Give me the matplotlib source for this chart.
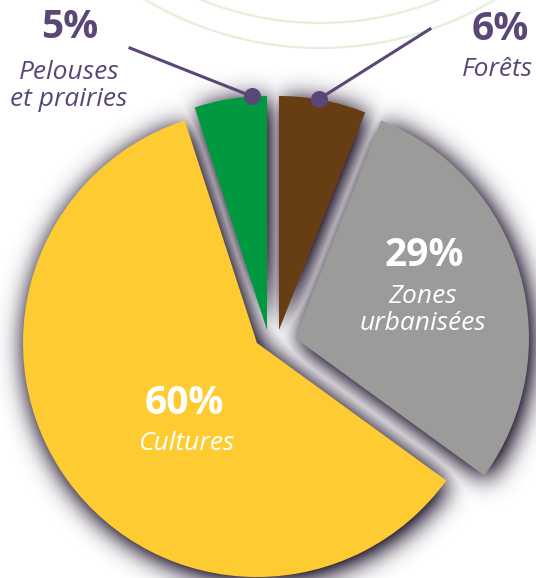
import matplotlib
matplotlib.use("Agg")
import matplotlib.pyplot as plt
import matplotlib.colors as mcolors
import numpy as np

# ---- data ----
categories = ["Forêts", "Zones\nurbanisées", "Cultures", "Pelouses\net prairies"]
values = [6, 29, 60, 5]
pct_labels = ["6%", "29%", "60%", "5%"]
colors = ["#673d14", "#9b9b9a", "#fecc32", "#009940"]

# ---- layout (pixel-like data coords, y up) ----
W, H = 536, 578
R = 234
base_center = (272, 238)
# per-slice shift of each wedge (layout only)
shifts = [(7, 10), (23, 2), (-15, -3), (-5, 10)]
purple = "#5a4778"
shadow_col = "#3a3045"
shadow_sigma = 13.0
shadow_offset = (3, -4)
shadow_strength = 1.6

fig = plt.figure(figsize=(W / 100, H / 100), dpi=100)
ax = fig.add_axes([0, 0, 1, 1])

# decorative arcs at top
arc_c = (320, H + 292)
for r in (315, 340):
    t = np.linspace(0, 2 * np.pi, 400)
    ax.plot(arc_c[0] + r * np.cos(t), arc_c[1] + r * np.sin(t),
            color="#e4f0da", lw=1.6, zorder=0)

# main pie
wedges, _ = ax.pie(values, colors=colors, startangle=90, counterclock=False,
                   radius=R, center=base_center, wedgeprops=dict(linewidth=0))
for w, (dx, dy) in zip(wedges, shifts):
    w.set_center((base_center[0] + dx, base_center[1] + dy))
    w.set_zorder(2)

# soft drop shadow built from each wedge outline
xs = np.arange(W) + 0.5
ys = np.arange(H) + 0.5
gxg, gyg = np.meshgrid(xs, ys)
pts = np.column_stack([gxg.ravel() - shadow_offset[0], gyg.ravel() - shadow_offset[1]])
pad = int(3 * shadow_sigma)
k = np.exp(-0.5 * (np.arange(-pad, pad + 1) / shadow_sigma) ** 2)
k /= k.sum()


def blur(m):
    mp = np.pad(m, pad, mode="constant")
    mp = np.apply_along_axis(lambda r: np.convolve(r, k, mode="same"), 1, mp)
    mp = np.apply_along_axis(lambda c: np.convolve(c, k, mode="same"), 0, mp)
    return mp[pad:-pad, pad:-pad]


alpha = np.zeros((H, W))
for w in wedges:
    p = w.get_patch_transform().transform_path(w.get_path())
    m = p.contains_points(pts).astype(float).reshape(H, W)
    alpha = np.maximum(alpha, np.clip(blur(m) * shadow_strength, 0, 1))
rgba = np.zeros((H, W, 4))
rgba[..., :3] = mcolors.to_rgb(shadow_col)
rgba[..., 3] = alpha
ax.imshow(rgba, extent=(0, W, 0, H), origin="lower", zorder=1,
          interpolation="bilinear")

font = "Open Sans"
PCT = 28
LAB = 19

ax.text(424, H - 255, pct_labels[1], ha="center", va="center", color="white",
        fontsize=PCT, fontweight="bold", family=font, zorder=5)
ax.text(423, H - 310, categories[1], ha="center", va="center", color="white",
        fontsize=LAB, style="italic", family=font, linespacing=1.15, zorder=5)
ax.text(184, H - 404, pct_labels[2], ha="center", va="center", color="white",
        fontsize=PCT, fontweight="bold", family=font, zorder=5)
ax.text(186, H - 443, categories[2], ha="center", va="center", color="white",
        fontsize=LAB, style="italic", family=font, zorder=5)

# outside labels
ax.text(70, H - 28, pct_labels[3], ha="center", va="center", color=purple,
        fontsize=PCT, fontweight="bold", family=font, zorder=5)
ax.text(69, H - 86, categories[3], ha="center", va="center", color=purple,
        fontsize=LAB, style="italic", family=font, linespacing=1.15, zorder=5)
ax.text(500, H - 30, pct_labels[0], ha="center", va="center", color=purple,
        fontsize=PCT, fontweight="bold", family=font, zorder=5)
ax.text(497, H - 70, categories[0], ha="center", va="center", color=purple,
        fontsize=LAB, style="italic", family=font, zorder=5)

# leader lines with dots on the slice arcs
def arc_point(w, frac):
    th = np.deg2rad(w.theta1 + frac * (w.theta2 - w.theta1))
    cx, cy = w.center
    return cx + w.r * np.cos(th), cy + w.r * np.sin(th)

gx, gy = arc_point(wedges[3], 0.2)
bx, by = arc_point(wedges[0], 0.55)
ax.plot([130, gx], [H - 48, gy], color=purple, lw=2.2, zorder=6)
ax.plot([430, bx], [H - 29, by], color=purple, lw=2.2, zorder=6)
ax.scatter([gx, bx], [gy, by], s=150, color=purple, zorder=7, linewidths=0)

ax.set_xlim(0, W)
ax.set_ylim(0, H)
ax.set_aspect("equal")
ax.axis("off")
fig.savefig("out.png", dpi=100, facecolor="white")
